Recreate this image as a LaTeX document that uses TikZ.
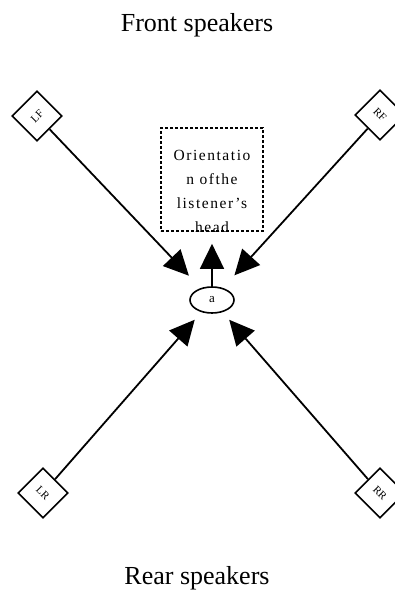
\documentclass[tikz,border=0pt]{standalone}
\usepackage{fontspec}
\setmainfont{Liberation Serif}
\usetikzlibrary{arrows.meta,shapes.geometric}
\begin{document}
\begin{tikzpicture}[x=1pt,y=-1pt,
  spk/.style={draw, line width=1.6pt, minimum size=35pt, inner sep=0pt,
    fill=white, font=\fontsize{11}{13}\selectfont},
  feed/.style={line width=1.8pt, -{Triangle[length=25pt,width=24pt]}},
  title/.style={anchor=base, inner sep=0pt, font=\fontsize{26}{30}\selectfont},
]
\useasboundingbox (0,0) rectangle (395,591);

% headings
\node[title] (front) at (197,32) {Front speakers};
\node[title] (rear) at (197,584) {Rear speakers};

% speakers
\node[spk, rotate=45]  (LF) at (37,116)  {LF};
\node[spk, rotate=-45] (RF) at (380,115) {RF};
\node[spk, rotate=-45] (LR) at (43,493)  {LR};
\node[spk, rotate=-45] (RR) at (380,493) {RR};

% listener
\node[draw, ellipse, line width=1.6pt, minimum width=44pt, minimum height=26pt,
      inner sep=0pt, font=\fontsize{13}{15}\selectfont] (a) at (212,300) {a};

% head orientation box, text cut off at its border
\node[draw, dash pattern=on 3pt off 2pt, line width=1.7pt,
      minimum width=102pt, minimum height=103pt, inner sep=0pt] (box) at (212,179.5) {};
\begin{scope}
  \clip (box.south west) rectangle (box.north east);
  \node[align=center, anchor=north, inner sep=0pt,
        font=\fontsize{15.5}{24}\selectfont\addfontfeatures{LetterSpace=10}]
        (orient) at (212,150.5) {Orientatio\\n ofthe\\listener’s\\head};
\end{scope}

% sound paths
\draw[feed, shorten >=17pt] (LF) -- (a);
\draw[feed, shorten >=17pt] (RF) -- (a);
\draw[feed, shorten >=10pt] (LR) -- (a);
\draw[feed, shorten >=10pt] (RR) -- (a);
\draw[feed, shorten >=12pt] (a) -- (box);
\end{tikzpicture}
\end{document}
